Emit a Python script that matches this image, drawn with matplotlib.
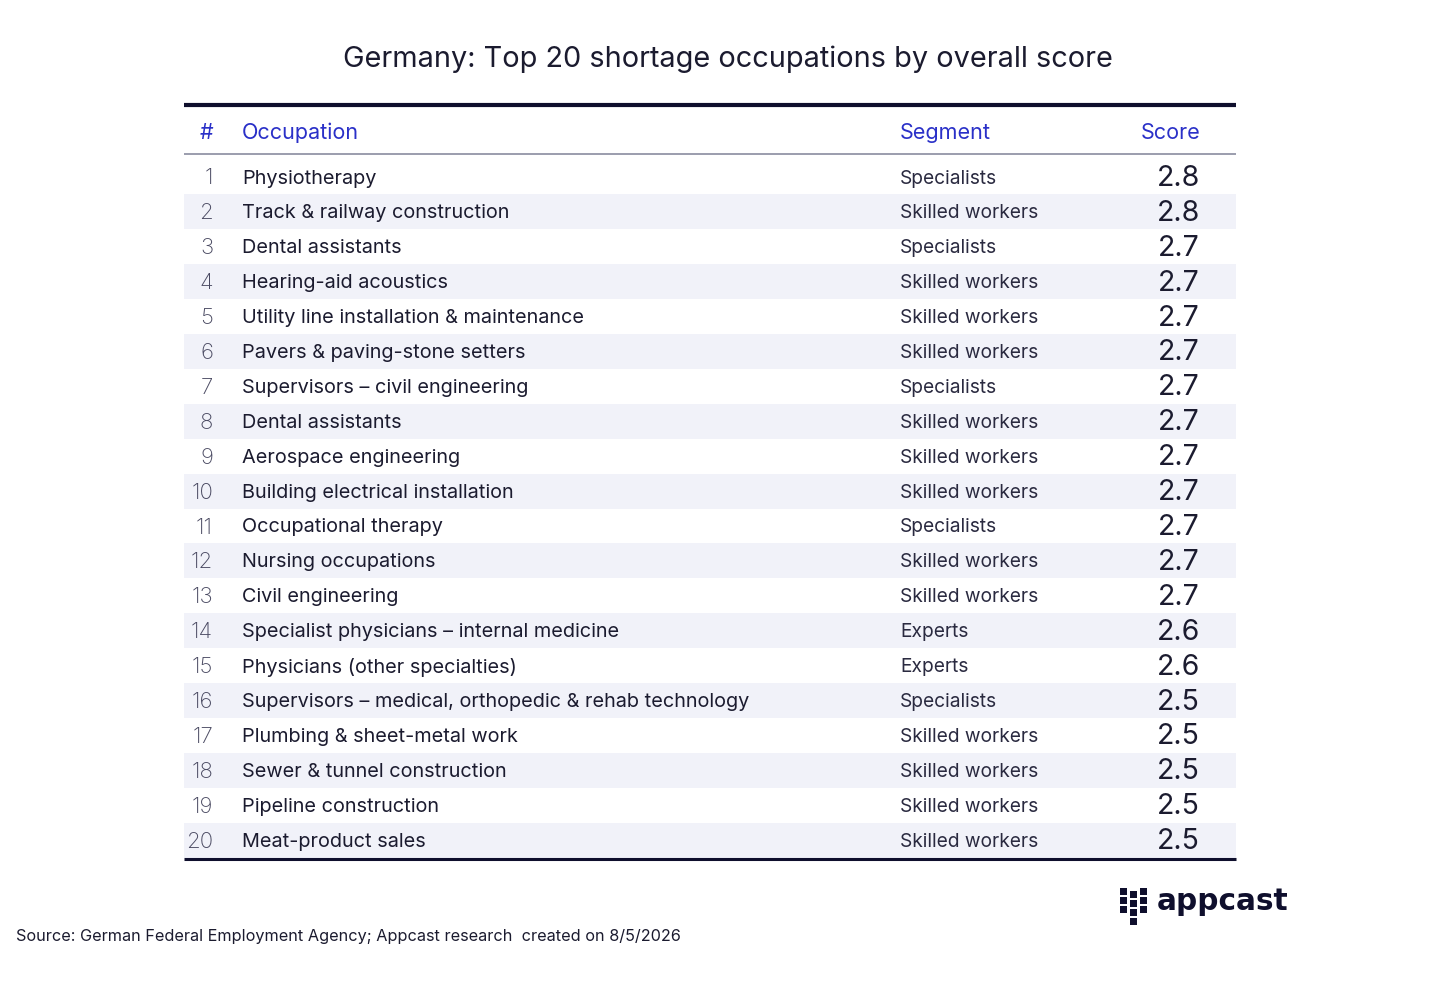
import matplotlib
matplotlib.use("Agg")
import matplotlib.pyplot as plt
from matplotlib.patches import Rectangle

ranks = list(range(1, 21))
occupations = [
    "Physiotherapy",
    "Track & railway construction",
    "Dental assistants",
    "Hearing-aid acoustics",
    "Utility line installation & maintenance",
    "Pavers & paving-stone setters",
    "Supervisors \u2013 civil engineering",
    "Dental assistants",
    "Aerospace engineering",
    "Building electrical installation",
    "Occupational therapy",
    "Nursing occupations",
    "Civil engineering",
    "Specialist physicians \u2013 internal medicine",
    "Physicians (other specialties)",
    "Supervisors \u2013 medical, orthopedic & rehab technology",
    "Plumbing & sheet-metal work",
    "Sewer & tunnel construction",
    "Pipeline construction",
    "Meat-product sales",
]
segments = [
    "Specialists", "Skilled workers", "Specialists", "Skilled workers",
    "Skilled workers", "Skilled workers", "Specialists", "Skilled workers",
    "Skilled workers", "Skilled workers", "Specialists", "Skilled workers",
    "Skilled workers", "Experts", "Experts", "Specialists",
    "Skilled workers", "Skilled workers", "Skilled workers", "Skilled workers",
]
scores = [2.8, 2.8, 2.7, 2.7, 2.7, 2.7, 2.7, 2.7, 2.7, 2.7,
          2.7, 2.7, 2.7, 2.6, 2.6, 2.5, 2.5, 2.5, 2.5, 2.5]
headers = ["#", "Occupation", "Segment", "Score"]

title = "Germany: Top 20 shortage occupations by overall score"
source = "Source: German Federal Employment Agency; Appcast research  created on 8/5/2026"

FONT = ["Inter", "DejaVu Sans"]
NAVY = "#0f0f2d"
TEXT = "#1b1b2f"
BLUE = "#2a30c8"
RANKC = "#4a4a62"
STRIPE = "#f1f2f9"

W, H = 1456, 1008
fig = plt.figure(figsize=(W / 100, H / 100), dpi=100)
ax = fig.add_axes([0, 0, 1, 1])
ax.set_xlim(0, W)
ax.set_ylim(H, 0)
ax.axis("off")

x0, x1 = 184, 1236
row0 = 177.0
rowh = 34.9
dy = 1.5

ax.text(728, 59, title, ha="center", va="center", fontsize=20.8, color=TEXT, family=FONT)

ax.plot([x0, x1], [105, 105], color=NAVY, lw=3, solid_capstyle="butt")
ax.plot([x0, x1], [154, 154], color="#8a8ca0", lw=1.2, solid_capstyle="butt")

hy = 133
ax.text(213, hy, headers[0], ha="right", va="center", fontsize=15.5, color=BLUE, family=FONT)
ax.text(242, hy, headers[1], ha="left", va="center", fontsize=15.5, color=BLUE, family=FONT)
ax.text(900, hy, headers[2], ha="left", va="center", fontsize=15.5, color=BLUE, family=FONT)
ax.text(1200, hy, headers[3], ha="right", va="center", fontsize=15.5, color=BLUE, family=FONT)

for i, (r, occ, seg, sc) in enumerate(zip(ranks, occupations, segments, scores)):
    y = row0 + i * rowh
    if i % 2 == 1:
        ax.add_patch(Rectangle((x0, y - rowh / 2), x1 - x0, rowh, facecolor=STRIPE,
                               edgecolor="none", zorder=0))
    ax.text(213, y + dy, str(r), ha="right", va="center", fontsize=16, color=RANKC,
            family=FONT, fontweight="light")
    ax.text(242, y + dy, occ, ha="left", va="center", fontsize=14.3, color=TEXT, family=FONT)
    ax.text(900, y + dy, seg, ha="left", va="center", fontsize=13.8, color="#2a2a40", family=FONT)
    ax.text(1200, y + dy, f"{sc:.1f}", ha="right", va="center", fontsize=20.5, color=TEXT,
            family=FONT)

ybot = row0 + 19 * rowh + rowh / 2 + 1
ax.plot([x0, x1], [ybot, ybot], color=NAVY, lw=2.2, solid_capstyle="butt")

# logo icon
sq = 6.5
cols = [(1120, [888, 897, 906]), (1130, [891, 900, 909, 918]), (1140, [888, 897, 906])]
for cx, ys in cols:
    for yy in ys:
        ax.add_patch(Rectangle((cx, yy), sq, sq, facecolor=NAVY, edgecolor="none"))
ax.text(1157, 901, "appcast", ha="left", va="center", fontsize=21.3, fontweight="bold",
        color=NAVY, family=["DejaVu Sans"])

ax.text(16, 937, source, ha="left", va="center", fontsize=11.7, color=TEXT, family=FONT)

fig.savefig("out.png", dpi=100, facecolor="white")
